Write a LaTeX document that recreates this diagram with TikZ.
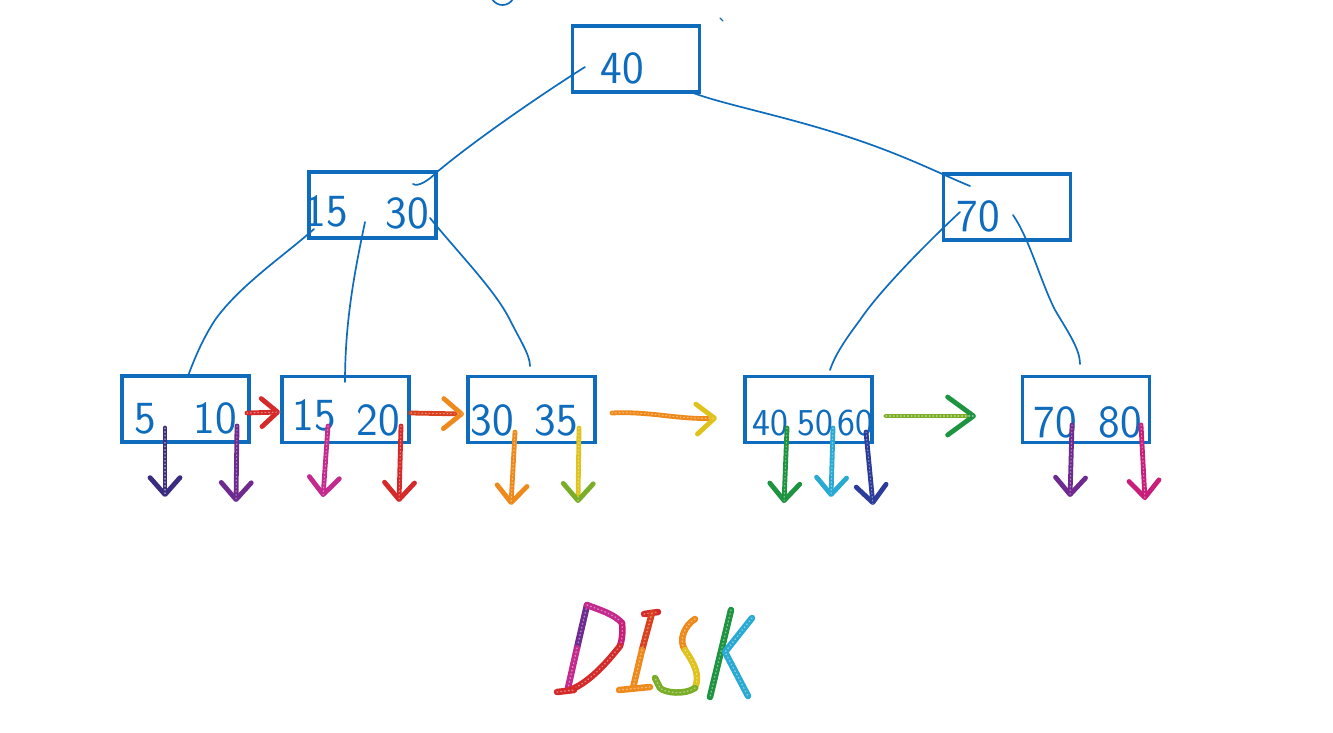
\documentclass[tikz,border=0pt]{standalone}
\usetikzlibrary{arrows.meta}
\definecolor{ink}{HTML}{0F6CBD}
\definecolor{gNavy}{HTML}{3A2C80}
\definecolor{gPurple}{HTML}{6E2A8E}
\definecolor{gMagenta}{HTML}{C42A8E}
\definecolor{gRed}{HTML}{D42A2A}
\definecolor{gRedOr}{HTML}{D8401E}
\definecolor{gOrange}{HTML}{EE8A1C}
\definecolor{gYellow}{HTML}{E0C21C}
\definecolor{gGreen}{HTML}{1E9440}
\definecolor{gLime}{HTML}{7AAE28}
\definecolor{gCyan}{HTML}{2AAAD2}
\definecolor{gBlue}{HTML}{2C3C9A}
\definecolor{gPink}{HTML}{C8207A}
\begin{document}
\begin{tikzpicture}[x=1pt,y=-1pt,
  box/.style={draw=ink, line width=3.2pt, minimum width=127pt, minimum height=66pt, inner sep=0pt},
  num/.style={text=ink, font=\sffamily\fontsize{46}{46}\selectfont, inner sep=0pt},
  numsm/.style={num, font=\sffamily\fontsize{38}{38}\selectfont},
  link/.style={draw=ink, line width=1.7pt, line cap=round},
  glit/.style={line width=4.8pt, line cap=round, line join=round,
    postaction={draw=white, draw opacity=0.45, line width=1.1pt, dash pattern=on 0.8pt off 2.8pt, arrows=-}},
  ptr/.style={glit, -{Straight Barb[length=17pt, width=30pt, round]}},
  nxt/.style={glit, -{Straight Barb[length=18pt, width=30pt, round]}},
  letter/.style={line width=6.5pt, line cap=round, line join=round,
    postaction={draw=white, draw opacity=0.45, line width=1.3pt, dash pattern=on 0.8pt off 3pt}}
]
\useasboundingbox (0,0) rectangle (1333,732);

% tree nodes
\node[box] (root) at (636,59) {};
\node[box] (inL) at (372.5,205) {};
\node[box] (inR) at (1007,207) {};
\node[box] (lf1) at (185.5,409) {};
\node[box] (lf2) at (345.5,409.5) {};
\node[box] (lf3) at (531.5,409.5) {};
\node[box] (lf4) at (808.5,409.5) {};
\node[box] (lf5) at (1086,409.5) {};

% keys
\node[num] (k40) at (622,68) {40};
\node[num] (k15) at (326,211) {15};
\node[num] (k30) at (407,213) {30};
\node[num] (k70) at (978,216) {70};
\node[num] (a5) at (145,419) {5};
\node[num] (a10) at (215,418) {10};
\node[num] (b15) at (314,415) {15};
\node[num] (b20) at (378,420) {20};
\node[num] (c30) at (492,420) {30};
\node[num] (c35) at (556,420) {35};
\node[numsm] (d40) at (770,423) {40};
\node[numsm] (d50) at (815,423) {50};
\node[numsm] (d60) at (855,423) {60};
\node[num] (e70) at (1055,422) {70};
\node[num] (e80) at (1120,422) {80};

% child links
\coordinate (rootL) at (585,67);
\coordinate (inLtop) at (413,184);
\coordinate (rootR) at (688,91);
\coordinate (inRtop) at (970,186);
\draw[link] (rootL) .. controls (545,92) and (475,140) .. (437,172)
  .. controls (428,181) and (418,187) .. (inLtop);
\draw[link] (rootR) .. controls (725,106) and (800,118) .. (880,148)
  .. controls (920,163) and (950,178) .. (inRtop);

\coordinate (inLa) at (314,229);
\coordinate (lf1top) at (188,376);
\coordinate (inLb) at (365,222);
\coordinate (lf2top) at (345,382);
\coordinate (inLc) at (430,218);
\coordinate (lf3top) at (530,366);
\draw[link] (inLa) .. controls (285,255) and (240,285) .. (215,320) .. controls (202,340) and (194,360) .. (lf1top);
\draw[link] (inLb) .. controls (355,270) and (345,320) .. (lf2top);
\draw[link] (inLc) .. controls (460,255) and (495,290) .. (510,320) .. controls (520,340) and (530,355) .. (lf3top);

\coordinate (inRa) at (960,212);
\coordinate (lf4top) at (830,370);
\coordinate (inRb) at (1013,215);
\coordinate (lf5top) at (1080,364);
\draw[link] (inRa) .. controls (930,240) and (880,290) .. (860,320) .. controls (845,340) and (835,355) .. (lf4top);
\draw[link] (inRb) .. controls (1030,240) and (1040,280) .. (1055,310) .. controls (1070,335) and (1080,350) .. (lf5top);

% stray pen marks
\coordinate (m1) at (492,-1);
\coordinate (m2) at (513,-1);
\draw[link] (m1) .. controls (497,7) and (508,7) .. (m2);
\coordinate (m3) at (720,18);
\coordinate (m4) at (723,21);
\draw[link, line width=1.2pt] (m3) -- (m4);

% leaf chain
\coordinate (n1a) at (247,413); \coordinate (n1b) at (280,412);
\coordinate (n2a) at (411,413); \coordinate (n2b) at (464,414);
\coordinate (n3a) at (612,413); \coordinate (n3b) at (717,418);
\coordinate (n4a) at (886,416); \coordinate (n4b) at (976,416);
\draw[nxt, gRed, -{Straight Barb[length=16pt, width=28pt, round]}] (n1a) -- (n1b);
\draw[nxt, gRedOr, -{Straight Barb[length=18pt, width=30pt, round, color=gOrange]}] (n2a) -- (n2b);
\draw[nxt, gOrange, -{Straight Barb[length=18pt, width=30pt, round, color=gYellow]}] (n3a) .. controls (650,411) and (680,420) .. (n3b);
\draw[nxt, gLime, -{Straight Barb[length=26pt, width=38pt, round, color=gGreen]}] (n4a) -- (n4b);

% record pointers
\coordinate (p1a) at (165,428);  \coordinate (p1b) at (165,497);
\coordinate (p2a) at (237,426);  \coordinate (p2b) at (236,502);
\coordinate (p3a) at (328,426);  \coordinate (p3b) at (323,497);
\coordinate (p4a) at (401,426);  \coordinate (p4b) at (399,502);
\coordinate (p5a) at (515,432);  \coordinate (p5b) at (511,505);
\coordinate (p6a) at (579,428);  \coordinate (p6b) at (578,503);
\coordinate (p7a) at (787,428);  \coordinate (p7b) at (784,503);
\coordinate (p8a) at (833,428);  \coordinate (p8b) at (831,497);
\coordinate (p9a) at (866,432);  \coordinate (p9b) at (873,505);
\coordinate (p10a) at (1072,425); \coordinate (p10b) at (1070,497);
\coordinate (p11a) at (1141,425); \coordinate (p11b) at (1145,500);
\draw[ptr, gNavy] (p1a) -- (p1b);
\draw[ptr, gPurple] (p2a) -- (p2b);
\draw[ptr, gMagenta] (p3a) -- (p3b);
\draw[ptr, gRed] (p4a) -- (p4b);
\draw[ptr, gOrange] (p5a) -- (p5b);
\draw[ptr, gYellow, -{Straight Barb[length=17pt, width=30pt, round, color=gLime]}] (p6a) -- (p6b);
\draw[ptr, gGreen] (p7a) -- (p7b);
\draw[ptr, gCyan] (p8a) -- (p8b);
\draw[ptr, gBlue] (p9a) -- (p9b);
\draw[ptr, gPurple] (p10a) -- (p10b);
\draw[ptr, gPink] (p11a) -- (p11b);

% DISK lettering
% D
\draw[letter, gPurple] (587,605) -- (577,648);
\draw[letter, gMagenta] (577,648) -- (568,688);
\draw[letter, gMagenta] (587,605) .. controls (600,610) and (614,614) .. (622,623);
\draw[letter, gPink] (622,623) .. controls (623,632) and (622,640) .. (620,646);
\draw[letter, gRed] (620,646) .. controls (605,665) and (588,683) .. (570,690);
\draw[letter, gRed] (557,692) -- (574,690);
% I
\draw[letter, gRed] (644,614) -- (658,612);
\draw[letter, gRedOr] (652,613) -- (642,650);
\draw[letter, gOrange] (642,650) -- (633,688);
\draw[letter, gOrange] (619,690) -- (650,687);
% S
\draw[letter, gOrange] (695,619) .. controls (685,625) and (678,640) .. (685,650);
\draw[letter, gYellow] (685,650) .. controls (695,665) and (700,675) .. (695,688);
\draw[letter, gLime] (695,688) .. controls (685,695) and (665,693) .. (660,688) -- (655,678);
% K
\draw[letter, gGreen] (731,610) -- (710,697);
\draw[letter, gCyan] (752,618) -- (725,652) -- (748,696);
\end{tikzpicture}
\end{document}
